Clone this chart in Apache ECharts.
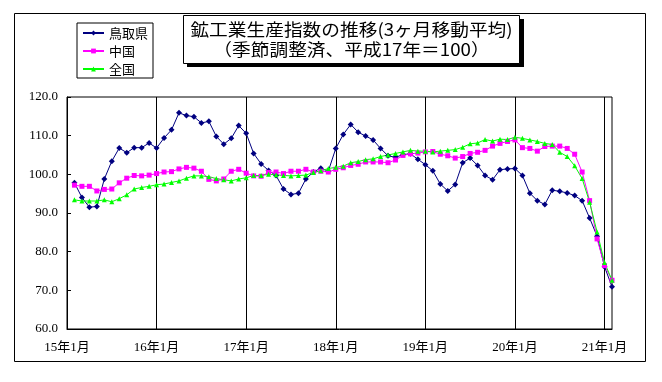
<!DOCTYPE html>
<html>
<head>
<meta charset="utf-8">
<script src="https://cdn.jsdelivr.net/npm/echarts@6/dist/echarts.min.js"></script>
<style>
html,body{margin:0;padding:0;background:#fff;}
#c{width:662px;height:382px;}
</style>
</head>
<body>
<div id="c"></div>
<script>
// categories: 15年1月 .. 21年2月
const categories = [];
for (let y = 15; y <= 21; y++) {
  for (let m = 1; m <= 12; m++) {
    if (y === 21 && m > 2) break;
    categories.push(y + '年' + m + '月');
  }
}

const tottori = [
  null, 97.8, 94.0, 91.5, 91.7, 98.8, 103.4, 106.8, 105.6, 106.9, 106.9, 108.1,
  106.8, 109.4, 111.5, 115.9, 115.2, 114.9, 113.3, 113.7, 109.8, 107.8, 109.3, 112.6,
  110.6, 105.4, 102.7, 101.0, 99.7, 96.2, 94.8, 95.1, 98.8, 100.6, 101.6, 100.8,
  106.7, 110.3, 112.9, 110.9, 109.9, 108.9, 106.7, 104.8, 104.4, 105.1, 105.3, 103.9,
  102.5, 100.9, 97.5, 95.7, 97.4, 103.0, 104.2, 102.3, 99.7, 98.6, 101.2, 101.4,
  101.5, 99.7, 95.1, 93.2, 92.2, 95.9, 95.6, 95.2, 94.5, 93.2, 88.7, 84.0,
  76.1, 70.9
];

const chugoku = [
  null, 97.2, 96.9, 96.9, 95.7, 96.1, 96.2, 97.8, 99.0, 99.7, 99.6, 99.8,
  100.2, 100.6, 100.7, 101.4, 101.8, 101.6, 100.8, 98.7, 98.3, 98.8, 100.8, 101.3,
  100.3, 99.6, 99.5, 100.5, 100.6, 100.2, 100.8, 100.8, 101.3, 100.6, 100.8, 100.6,
  101.3, 101.7, 102.3, 102.6, 103.2, 103.2, 103.2, 103.0, 103.7, 104.9, 105.3, 105.5,
  105.8, 105.9, 105.2, 104.8, 104.2, 104.6, 105.4, 105.7, 106.2, 107.3, 108.0, 108.5,
  108.9, 106.9, 106.7, 106.0, 107.2, 107.3, 107.3, 106.7, 105.2, 100.6, 93.2, 83.3,
  76.4, 72.6
];

const zenkoku = [
  null, 93.4, 93.1, 93.1, 93.1, 93.4, 92.9, 93.7, 94.7, 96.2, 96.6, 96.9,
  97.3, 97.5, 97.9, 98.3, 99.0, 99.6, 99.6, 99.4, 98.9, 98.6, 98.3, 98.8,
  99.1, 99.7, 99.7, 100.0, 99.9, 99.7, 99.6, 99.7, 99.8, 100.5, 100.9, 101.5,
  101.8, 102.1, 103.0, 103.3, 103.8, 104.0, 104.6, 105.0, 105.4, 105.8, 106.2, 106.0,
  106.0, 105.8, 106.0, 106.2, 106.4, 107.0, 107.9, 108.1, 109.0, 108.6, 109.1, 109.0,
  109.6, 109.3, 108.9, 108.5, 108.0, 107.7, 105.7, 104.6, 102.2, 98.9, 92.8, 85.1,
  77.2, 72.6
];

const seriesNames = ['鳥取県', '中国', '全国'];
const titleLines = ['鉱工業生産指数の推移(3ヶ月移動平均)', '（季節調整済、平成17年＝100）'];

const chart = echarts.init(document.getElementById('c'), null, {renderer: 'canvas'});
const serifFont = "'Liberation Serif', 'DejaVu Serif', 'Noto Sans CJK JP', serif";
const gothic = "'Noto Sans CJK JP', 'Noto Sans', sans-serif";

chart.setOption({
  animation: false,
  backgroundColor: '#fff',
  grid: {
    left: 67, right: 50, top: 97, bottom: 53,
    show: true, borderColor: '#000', borderWidth: 1, containLabel: false
  },
  legend: {
    orient: 'vertical',
    left: 77, top: 23,
    padding: [3, 5, 2, 5],
    itemGap: 4,
    itemWidth: 21,
    itemHeight: 6,
    borderColor: '#000',
    borderWidth: 1,
    backgroundColor: '#fff',
    textStyle: {fontFamily: gothic, fontSize: 13, color: '#000', lineHeight: 14, height: 14},
    data: seriesNames
  },
  xAxis: {
    type: 'category',
    boundaryGap: false,
    data: categories,
    axisLine: {lineStyle: {color: '#000', width: 1}},
    axisTick: {show: false},
    axisLabel: {
      interval: function (i) { return i % 12 === 0; },
      margin: 12,
      color: '#000',
      fontSize: 13,
      fontFamily: serifFont
    },
    splitLine: {
      show: true,
      interval: function (i) { return i % 12 === 0; },
      lineStyle: {color: '#000', width: 1}
    }
  },
  yAxis: {
    type: 'value',
    min: 60, max: 120, interval: 10,
    axisLine: {show: true, lineStyle: {color: '#000', width: 1}},
    axisTick: {show: true, inside: true, length: 4, lineStyle: {color: '#000'}},
    splitLine: {show: false},
    axisLabel: {
      formatter: function (v) { return v.toFixed(1); },
      margin: 9,
      color: '#000',
      fontSize: 13,
      fontFamily: serifFont
    }
  },
  series: [
    {
      name: seriesNames[0], type: 'line', data: tottori,
      symbol: 'diamond', symbolSize: 6, showAllSymbol: true,
      lineStyle: {color: '#000080', width: 1},
      itemStyle: {color: '#000080'}
    },
    {
      name: seriesNames[1], type: 'line', data: chugoku,
      symbol: 'rect', symbolSize: 5, showAllSymbol: true,
      lineStyle: {color: '#FF00FF', width: 1},
      itemStyle: {color: '#FF00FF'}
    },
    {
      name: seriesNames[2], type: 'line', data: zenkoku,
      symbol: 'triangle', symbolSize: 5, showAllSymbol: true,
      lineStyle: {color: '#00FF00', width: 1},
      itemStyle: {color: '#00FF00'}
    }
  ],
  graphic: [
    {
      type: 'rect', z: 0, silent: true,
      shape: {x: 14.5, y: 13.5, width: 631, height: 348},
      style: {fill: 'none', stroke: '#000', lineWidth: 1}
    },
    {
      type: 'rect', z: 10, silent: true,
      shape: {x: 187, y: 19, width: 337, height: 48},
      style: {fill: '#000'}
    },
    {
      type: 'rect', z: 11, silent: true,
      shape: {x: 183.5, y: 15.5, width: 336, height: 48},
      style: {fill: '#fff', stroke: '#000', lineWidth: 1}
    },
    {
      type: 'text', z: 12, silent: true,
      x: 351.5, y: 30, scaleX: 1.1,
      style: {
        text: titleLines[0], fill: '#000', fontSize: 17, fontFamily: gothic,
        align: 'center', verticalAlign: 'middle'
      }
    },
    {
      type: 'text', z: 12, silent: true,
      x: 351.5, y: 50, scaleX: 1.1,
      style: {
        text: titleLines[1], fill: '#000', fontSize: 17, fontFamily: gothic,
        align: 'center', verticalAlign: 'middle'
      }
    }
  ]
});
</script>
</body>
</html>
